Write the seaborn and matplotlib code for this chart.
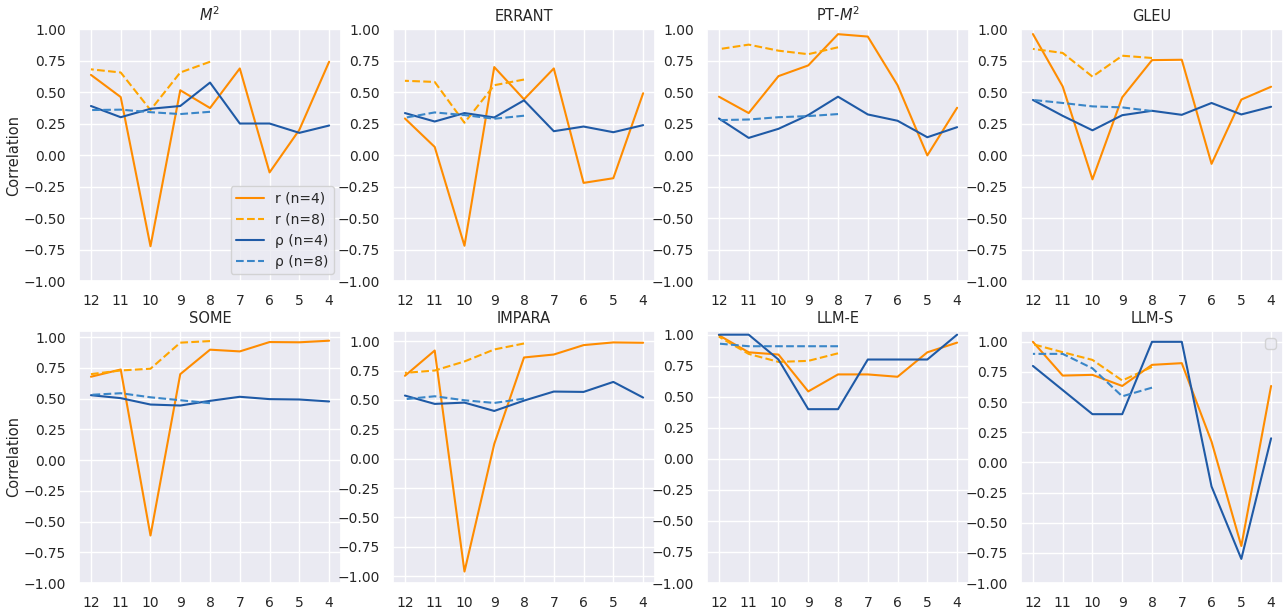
import numpy as np
import matplotlib
matplotlib.use("Agg")
import matplotlib.pyplot as plt
import seaborn as sns

x_n4 = [12, 11, 10, 9, 8, 7, 6, 5, 4]
x_n8 = [12, 11, 10, 9, 8]
xtick_labels = ["12", "11", "10", "9", "8", "7", "6", "5", "4"]

metrics = ["$M^2$", "ERRANT", "PT-$M^2$", "GLEU", "SOME", "IMPARA", "LLM-E", "LLM-S"]

r_n4 = {
    "$M^2$":    [0.636, 0.46, -0.724, 0.514, 0.373, 0.687, -0.138, 0.20, 0.74],
    "ERRANT":   [0.29, 0.064, -0.72, 0.698, 0.442, 0.687, -0.221, -0.184, 0.49],
    "PT-$M^2$": [0.463, 0.333, 0.626, 0.711, 0.959, 0.94, 0.554, -0.003, 0.375],
    "GLEU":     [0.96, 0.544, -0.193, 0.458, 0.753, 0.756, -0.07, 0.44, 0.542],
    "SOME":     [0.677, 0.736, -0.614, 0.698, 0.897, 0.883, 0.959, 0.957, 0.970],
    "IMPARA":   [0.705, 0.92, -0.96, 0.125, 0.861, 0.886, 0.966, 0.989, 0.986],
    "LLM-E":    [0.995, 0.858, 0.84, 0.543, 0.68, 0.68, 0.661, 0.858, 0.936],
    "LLM-S":    [1.0, 0.72, 0.726, 0.634, 0.809, 0.823, 0.172, -0.693, 0.634],
}
r_n8 = {
    "$M^2$":    [0.68, 0.655, 0.357, 0.655, 0.74],
    "ERRANT":   [0.589, 0.58, 0.256, 0.554, 0.599],
    "PT-$M^2$": [0.84, 0.876, 0.828, 0.80, 0.855],
    "GLEU":     [0.842, 0.81, 0.622, 0.788, 0.77],
    "SOME":     [0.698, 0.728, 0.742, 0.954, 0.967],
    "IMPARA":   [0.73, 0.75, 0.827, 0.929, 0.98],
    "LLM-E":    [0.984, 0.845, 0.781, 0.789, 0.85],
    "LLM-S":    [0.98, 0.914, 0.85, 0.679, 0.792],
}
rho_n4 = {
    "$M^2$":    [0.389, 0.30, 0.367, 0.389, 0.575, 0.25, 0.25, 0.176, 0.234],
    "ERRANT":   [0.333, 0.266, 0.333, 0.298, 0.434, 0.189, 0.226, 0.181, 0.237],
    "PT-$M^2$": [0.29, 0.136, 0.208, 0.317, 0.463, 0.322, 0.272, 0.141, 0.221],
    "GLEU":     [0.437, 0.311, 0.196, 0.316, 0.351, 0.319, 0.413, 0.322, 0.383],
    "SOME":     [0.527, 0.503, 0.451, 0.443, 0.481, 0.514, 0.495, 0.492, 0.476],
    "IMPARA":   [0.537, 0.466, 0.477, 0.406, 0.494, 0.571, 0.568, 0.653, 0.52],
    "LLM-E":    [1.0, 1.0, 0.8, 0.4, 0.4, 0.8, 0.8, 0.8, 1.0],
    "LLM-S":    [0.8, 0.6, 0.4, 0.4, 1.0, 1.0, -0.2, -0.8, 0.2],
}
rho_n8 = {
    "$M^2$":    [0.357, 0.36, 0.34, 0.325, 0.343],
    "ERRANT":   [0.296, 0.338, 0.317, 0.288, 0.312],
    "PT-$M^2$": [0.277, 0.282, 0.30, 0.309, 0.325],
    "GLEU":     [0.437, 0.413, 0.386, 0.378, 0.349],
    "SOME":     [0.53, 0.543, 0.51, 0.486, 0.462],
    "IMPARA":   [0.506, 0.531, 0.497, 0.474, 0.511],
    "LLM-E":    [0.928, 0.907, 0.907, 0.907, 0.907],
    "LLM-S":    [0.9, 0.9, 0.78, 0.548, 0.62],
}

series_labels = ["r (n=4)", "r (n=8)", "ρ (n=4)", "ρ (n=8)"]
colors = ["#ff8c00", "#ffa500", "#1f5aa6", "#3a86c8"]
styles = ["-", "--", "-", "--"]

sns.set_theme(style="darkgrid", context="notebook")
plt.rcParams["font.family"] = ["DejaVu Sans"]
plt.rcParams["xtick.labelsize"] = 10
plt.rcParams["ytick.labelsize"] = 10

fig, axes = plt.subplots(2, 4, figsize=(12.83, 6.08), dpi=100)
fig.subplots_adjust(left=0.0616, right=1.0, top=0.9523, bottom=0.0411,
                    wspace=0.1985, hspace=0.198)

yticks = np.arange(-1.0, 1.01, 0.25)
for i, (ax, m) in enumerate(zip(axes.flat, metrics)):
    data = [(x_n4, r_n4[m]), (x_n8, r_n8[m]), (x_n4, rho_n4[m]), (x_n8, rho_n8[m])]
    for j, (xs, ys) in enumerate(data):
        kw = {}
        if i == 0:
            kw["label"] = series_labels[j]
        sns.lineplot(x=xs, y=ys, ax=ax, color=colors[j], linestyle=styles[j],
                     linewidth=1.5, legend=False, **kw)
    ax.set_xticks(x_n4)
    ax.set_xticklabels(xtick_labels)
    ax.invert_xaxis()
    if i < 4:
        ax.set_ylim(-1, 1)
    ax.set_yticks(yticks)
    ax.set_title(m, fontsize=10.5)
    ax.set_xlabel("")
    ax.set_ylabel("Correlation" if i % 4 == 0 else "", fontsize=10.5, labelpad=1.5)

axes[0, 0].legend(loc="lower right", bbox_to_anchor=(1.0, 0.0), fontsize=10)
axes[1, 3].legend(loc="upper right", fontsize=10)

fig.savefig("out.png", dpi=100)
